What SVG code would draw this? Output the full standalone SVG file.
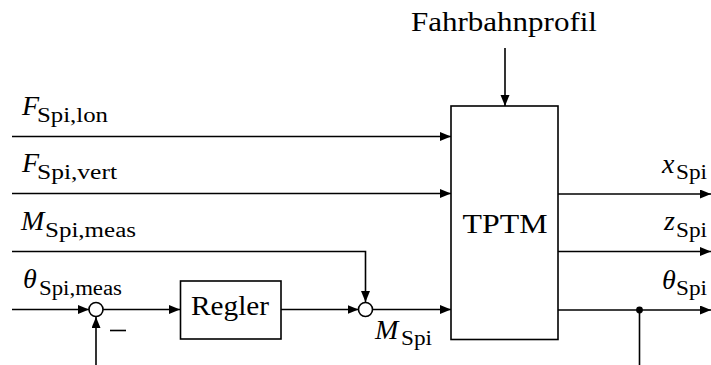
<svg xmlns="http://www.w3.org/2000/svg" width="711" height="365" viewBox="0 0 711 365">
<defs>
<marker id="arr" markerUnits="userSpaceOnUse" markerWidth="12" markerHeight="10" refX="11" refY="4.5" orient="auto">
<path d="M0,0 L11,4.5 L0,9 z" fill="#000"/>
</marker>
<style>
.ln{stroke:#000;stroke-width:1.6;fill:none}
.ar{marker-end:url(#arr)}
.bx{stroke:#000;stroke-width:1.6;fill:#fff}
text{fill:#000}
.t{font-size:28px}
.m{font-size:28px;font-style:italic}
.s{font-size:20px}
</style>
</defs>
<rect width="711" height="365" fill="#fff"/>

<g id="connectors">
<line class="ln ar" x1="505" y1="48" x2="505" y2="106"/>
<line class="ln ar" x1="12" y1="136.5" x2="451" y2="136.5"/>
<line class="ln ar" x1="12" y1="193.5" x2="451" y2="193.5"/>
<polyline class="ln ar" points="12,251.5 365.5,251.5 365.5,302"/>
<line class="ln ar" x1="12" y1="309.5" x2="89" y2="309.5"/>
<line class="ln ar" x1="96" y1="365" x2="96" y2="317"/>
<line class="ln ar" x1="103" y1="309.5" x2="180" y2="309.5"/>
<line class="ln ar" x1="281" y1="309.5" x2="358.5" y2="309.5"/>
<line class="ln ar" x1="372.5" y1="309.5" x2="451" y2="309.5"/>
<line class="ln ar" x1="558" y1="194" x2="711" y2="194"/>
<line class="ln ar" x1="558" y1="251.5" x2="711" y2="251.5"/>
<line class="ln ar" x1="558" y1="310" x2="711" y2="310"/>
<line class="ln" x1="639.5" y1="310" x2="639.5" y2="365"/>
<circle cx="639.5" cy="310" r="3.4" fill="#000"/>
</g>

<g font-family="Liberation Serif, Times New Roman, Tinos, DejaVu Serif, Noto Serif, FreeSerif, Times, serif">
<g id="fahrbahnprofil">
<text class="t" x="504" y="31" text-anchor="middle" textLength="186" lengthAdjust="spacingAndGlyphs">Fahrbahnprofil</text>
</g>

<g id="tptm">
<rect class="bx" x="451" y="106" width="107" height="233.5"/>
<text class="t" x="505" y="232.5" text-anchor="middle" textLength="85" lengthAdjust="spacingAndGlyphs">TPTM</text>
</g>

<g id="regler">
<rect class="bx" x="180.5" y="281" width="100.5" height="58"/>
<text class="t" x="230" y="315" text-anchor="middle" textLength="78" lengthAdjust="spacingAndGlyphs">Regler</text>
</g>

<g id="sum1">
<circle class="bx" cx="96" cy="309.5" r="7"/>
<line class="ln" x1="110" y1="330.5" x2="126" y2="330.5"/>
</g>

<g id="sum2">
<circle class="bx" cx="365.5" cy="309.5" r="7"/>
</g>

<g id="labels">
<text class="m" x="22" y="115">F</text>
<text class="s" x="37" y="121.5" textLength="71" lengthAdjust="spacingAndGlyphs">Spi,lon</text>

<text class="m" x="22" y="172">F</text>
<text class="s" x="37" y="178.5" textLength="80" lengthAdjust="spacingAndGlyphs">Spi,vert</text>

<text class="m" x="21" y="230">M</text>
<text class="s" x="45" y="236.5" textLength="91" lengthAdjust="spacingAndGlyphs">Spi,meas</text>

<text class="m" x="23" y="288">θ</text>
<text class="s" x="39" y="294.5" textLength="83" lengthAdjust="spacingAndGlyphs">Spi,meas</text>

<text class="m" x="375" y="339">M</text>
<text class="s" x="401" y="345" textLength="31" lengthAdjust="spacingAndGlyphs">Spi</text>

<text class="m" x="662" y="172.5">x</text>
<text class="s" x="676" y="179" textLength="31" lengthAdjust="spacingAndGlyphs">Spi</text>

<text class="m" x="664" y="230">z</text>
<text class="s" x="676" y="236.5" textLength="31" lengthAdjust="spacingAndGlyphs">Spi</text>

<text class="m" x="662" y="288.5">θ</text>
<text class="s" x="676" y="295" textLength="31" lengthAdjust="spacingAndGlyphs">Spi</text>
</g>
</g>
</svg>
